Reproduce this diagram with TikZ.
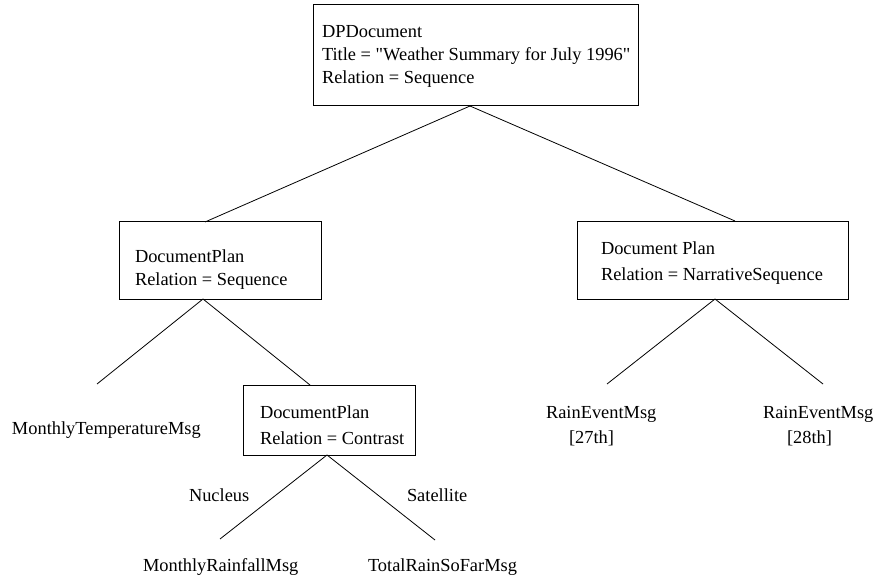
\documentclass[tikz,border=0pt]{standalone}
\usepackage{fontspec}
\setmainfont{Liberation Serif}[Ligatures=TeXOff]
\begin{document}
\begin{tikzpicture}[x=1pt,y=-1pt,
  every node/.style={font=\fontsize{18.4}{24}\selectfont, inner sep=0pt, outer sep=0pt},
  box/.style={draw, line width=1pt, anchor=north west},
  txt/.style={anchor=base west, align=left},
  conn/.style={line width=0.8pt}]
\useasboundingbox (0,0) rectangle (875,577);
% boxes
\node[box, minimum width=325pt, minimum height=101pt] (top) at (313,5) {};
\node[box, minimum width=202pt, minimum height=77pt] (dpl) at (119,222) {};
\node[box, minimum width=271pt, minimum height=77pt] (dpr) at (577,222) {};
\node[box, minimum width=172pt, minimum height=70pt] (dpc) at (243,385) {};
% box texts (anchored at the baseline of the last line)
\node[txt, font=\fontsize{18.4}{23}\selectfont] (toptxt) at (322,84) {DPDocument\\Title = "Weather Summary for July 1996"\\Relation = Sequence};
\node[txt, font=\fontsize{18.4}{23.5}\selectfont] (dpltxt) at (135,285.5) {DocumentPlan\\Relation = Sequence};
\node[txt, font=\fontsize{18.4}{26}\selectfont] (dprtxt) at (601,280) {Document Plan\\Relation = NarrativeSequence};
\node[txt, font=\fontsize{18.4}{26}\selectfont] (dpctxt) at (260,444) {DocumentPlan\\Relation = Contrast};
% leaves
\node[txt] (mtemp) at (12,434) {MonthlyTemperatureMsg};
\node[txt, font=\fontsize{18.4}{25}\selectfont] (rain27) at (546,443) {RainEventMsg\\\hspace*{23pt}[27th]};
\node[txt, font=\fontsize{18.4}{25}\selectfont] (rain28) at (763,443) {RainEventMsg\\\hspace*{24pt}[28th]};
\node[txt] (mrain) at (143,571) {MonthlyRainfallMsg};
\node[txt] (total) at (368,571) {TotalRainSoFarMsg};
% edge labels
\node[txt] (nuc) at (189,501) {Nucleus};
\node[txt] (sat) at (407,501) {Satellite};
% connector points
\coordinate (tA) at (470,106);
\coordinate (lTop) at (205,222);
\coordinate (rTop) at (735,221);
\coordinate (lA) at (203,299);
\coordinate (mtEnd) at (97,384);
\coordinate (cTop) at (310,385);
\coordinate (rA) at (715,299);
\coordinate (r27End) at (607,384);
\coordinate (r28End) at (823,384);
\coordinate (cA) at (327,455);
\coordinate (mrEnd) at (220,539);
\coordinate (trEnd) at (435,540);
% connectors
\draw[conn] (tA) -- (lTop);
\draw[conn] (tA) -- (rTop);
\draw[conn] (lA) -- (mtEnd);
\draw[conn] (lA) -- (cTop);
\draw[conn] (rA) -- (r27End);
\draw[conn] (rA) -- (r28End);
\draw[conn] (cA) -- (mrEnd);
\draw[conn] (cA) -- (trEnd);
\end{tikzpicture}
\end{document}
